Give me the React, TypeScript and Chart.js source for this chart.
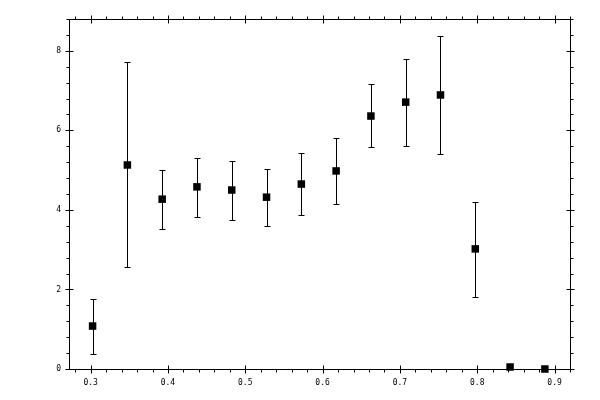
import { useEffect, useRef } from 'react';
import { Chart, registerables } from 'chart.js';

Chart.register(...registerables);

// bin centres and measured values (with lower / upper error ends)
const xValues = [0.3025, 0.3475, 0.3925, 0.4375, 0.4825, 0.5275, 0.5725, 0.6175, 0.6625, 0.7075, 0.7525, 0.7975, 0.8425, 0.8875];
const yValues = [1.08, 5.13, 4.27, 4.58, 4.5, 4.32, 4.65, 4.98, 6.36, 6.71, 6.89, 3.02, 0.05, 0.0];
const yLow = [0.38, 2.56, 3.52, 3.82, 3.75, 3.6, 3.87, 4.15, 5.58, 5.61, 5.41, 1.81, 0.05, 0.0];
const yHigh = [1.76, 7.72, 5.0, 5.31, 5.23, 5.04, 5.43, 5.81, 7.17, 7.79, 8.38, 4.21, 0.05, 0.0];

const xTicks = [0.3, 0.4, 0.5, 0.6, 0.7, 0.8, 0.9];
const yTicks = [0, 2, 4, 6, 8];

const X_MIN = 0.272;
const X_MAX = 0.92;
const Y_MIN = 0;
const Y_MAX = 8.8;

// error bars under the markers
const errorBars = {
   id: 'errorBars',
   beforeDatasetsDraw(chart: any) {
      const { ctx, scales } = chart;
      const x = scales.x;
      const y = scales.y;
      ctx.save();
      ctx.strokeStyle = '#000';
      ctx.lineWidth = 1;
      xValues.forEach((xv, i) => {
         if (yHigh[i] === yLow[i]) return;
         const px = Math.round(x.getPixelForValue(xv)) + 0.5;
         const top = Math.round(y.getPixelForValue(yHigh[i])) + 0.5;
         const bot = Math.round(y.getPixelForValue(yLow[i])) + 0.5;
         ctx.beginPath();
         ctx.moveTo(px, top);
         ctx.lineTo(px, bot);
         ctx.moveTo(px - 3, top);
         ctx.lineTo(px + 3, top);
         ctx.moveTo(px - 3, bot);
         ctx.lineTo(px + 3, bot);
         ctx.stroke();
      });
      ctx.restore();
   }
};

// box frame with crossing major ticks and outward minor ticks on all four sides
const frame = {
   id: 'frame',
   afterDraw(chart: any) {
      const { ctx, chartArea, scales } = chart;
      const { left, right, top, bottom } = chartArea;
      const x = scales.x;
      const y = scales.y;
      const L = Math.round(left) + 0.5;
      const R = Math.round(right) + 0.5;
      const T = Math.round(top) + 0.5;
      const B = Math.round(bottom) + 0.5;
      ctx.save();
      ctx.strokeStyle = '#000';
      ctx.lineWidth = 1;
      ctx.strokeRect(L, T, R - L, B - T);
      ctx.beginPath();
      for (let v = 0.28; v <= X_MAX + 1e-9; v += 0.02) {
         const px = Math.round(x.getPixelForValue(v)) + 0.5;
         ctx.moveTo(px, B);
         ctx.lineTo(px, B + 3);
         ctx.moveTo(px, T);
         ctx.lineTo(px, T - 3);
      }
      for (let v = Y_MIN; v <= Y_MAX + 1e-9; v += 0.4) {
         const py = Math.round(y.getPixelForValue(v)) + 0.5;
         ctx.moveTo(L, py);
         ctx.lineTo(L - 3, py);
         ctx.moveTo(R, py);
         ctx.lineTo(R + 3, py);
      }
      xTicks.forEach(v => {
         const px = Math.round(x.getPixelForValue(v)) + 0.5;
         ctx.moveTo(px, B - 4);
         ctx.lineTo(px, B + 4);
         ctx.moveTo(px, T - 4);
         ctx.lineTo(px, T + 4);
      });
      yTicks.forEach(v => {
         const py = Math.round(y.getPixelForValue(v)) + 0.5;
         ctx.moveTo(L - 4, py);
         ctx.lineTo(L + 4, py);
         ctx.moveTo(R - 4, py);
         ctx.lineTo(R + 4, py);
      });
      ctx.stroke();
      ctx.restore();
   }
};

export default function App() {
   const canvasRef = useRef<HTMLCanvasElement>(null);
   const chartRef = useRef<Chart | null>(null);

   useEffect(() => {
      if (!canvasRef.current) return;
      const ctx = canvasRef.current.getContext('2d');
      if (!ctx) return;

      if (chartRef.current) chartRef.current.destroy();

      const tickFont = { family: '"DejaVu Sans Mono", monospace', size: 8 };

      chartRef.current = new Chart(ctx, {
         type: 'scatter',
         data: {
            datasets: [{
               label: 'data',
               data: xValues.map((xv, i) => ({ x: xv, y: yValues[i] })),
               pointStyle: 'rect',
               pointRadius: 5.3,
               pointBorderWidth: 0,
               backgroundColor: '#000',
               borderColor: '#000',
               clip: false as any
            }]
         },
         options: {
            responsive: false,
            animation: false,
            layout: { padding: { top: 19, right: 30, left: 0, bottom: 0 } },
            plugins: {
               legend: { display: false },
               tooltip: { enabled: false }
            },
            scales: {
               x: {
                  type: 'linear',
                  min: X_MIN,
                  max: X_MAX,
                  afterBuildTicks: (s: any) => { s.ticks = xTicks.map(v => ({ value: v })); },
                  afterFit: (s: any) => { s.height = 31; },
                  grid: { display: false, drawTicks: false },
                  border: { display: false },
                  ticks: {
                     color: '#000',
                     font: tickFont,
                     padding: 9,
                     maxRotation: 0,
                     callback: (v: any) => Number(v).toFixed(1)
                  }
               },
               y: {
                  type: 'linear',
                  min: Y_MIN,
                  max: Y_MAX,
                  afterBuildTicks: (s: any) => { s.ticks = yTicks.map(v => ({ value: v })); },
                  afterFit: (s: any) => { s.width = 69; },
                  grid: { display: false, drawTicks: false },
                  border: { display: false },
                  ticks: {
                     color: '#000',
                     font: tickFont,
                     padding: 8,
                     callback: (v: any) => String(v)
                  }
               }
            }
         },
         plugins: [errorBars, frame]
      });

      return () => {
         if (chartRef.current) {
            chartRef.current.destroy();
            chartRef.current = null;
         }
      };
   }, []);

   return (
      <div style={{ position: 'fixed', left: 0, top: 0, width: 600, height: 400, background: '#fff' }}>
         <canvas ref={canvasRef} width={600} height={400}></canvas>
      </div>
   );
}
